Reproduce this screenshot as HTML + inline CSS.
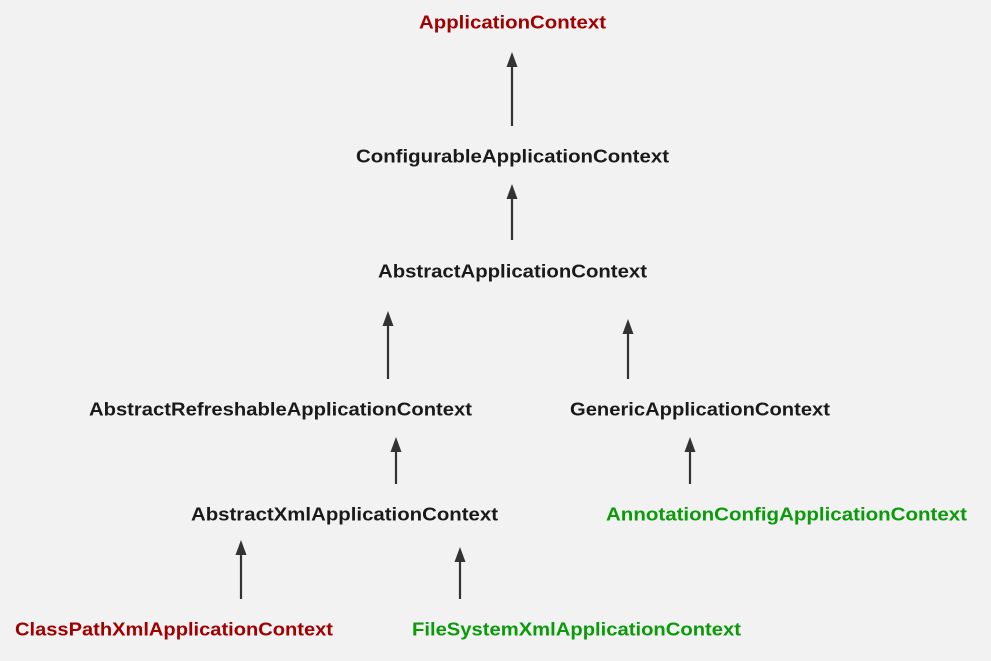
<!DOCTYPE html>
<html><head><meta charset="utf-8"><style>
html,body{margin:0;padding:0;background:#f2f2f2;}
svg{display:block;}
text{font-family:"Liberation Sans",sans-serif;font-weight:bold;font-size:18.5px;}
</style></head><body>
<svg width="991" height="661" viewBox="0 0 991 661" xmlns="http://www.w3.org/2000/svg">
<rect width="991" height="661" fill="#f2f2f2"/>
<g fill="#1a1a1a">
<text x="419" y="28.5" textLength="187" lengthAdjust="spacingAndGlyphs" fill="#a00000">ApplicationContext</text>
<text x="356" y="162.5" textLength="313" lengthAdjust="spacingAndGlyphs">ConfigurableApplicationContext</text>
<text x="378" y="277.5" textLength="269" lengthAdjust="spacingAndGlyphs">AbstractApplicationContext</text>
<text x="89" y="415.5" textLength="383" lengthAdjust="spacingAndGlyphs">AbstractRefreshableApplicationContext</text>
<text x="570" y="415.5" textLength="260" lengthAdjust="spacingAndGlyphs">GenericApplicationContext</text>
<text x="191" y="520.5" textLength="307" lengthAdjust="spacingAndGlyphs">AbstractXmlApplicationContext</text>
<text x="606" y="520.5" textLength="361" lengthAdjust="spacingAndGlyphs" fill="#0a9a0a">AnnotationConfigApplicationContext</text>
<text x="15" y="635.5" textLength="318" lengthAdjust="spacingAndGlyphs" fill="#a00000">ClassPathXmlApplicationContext</text>
<text x="412" y="635.5" textLength="329" lengthAdjust="spacingAndGlyphs" fill="#0a9a0a">FileSystemXmlApplicationContext</text>
</g>
<g stroke="#333" stroke-width="2.2" fill="none">
<line x1="512" y1="126" x2="512" y2="64"/>
<line x1="512" y1="240" x2="512" y2="196"/>
<line x1="388" y1="379" x2="388" y2="323"/>
<line x1="628" y1="379" x2="628" y2="331"/>
<line x1="396" y1="484" x2="396" y2="449"/>
<line x1="690" y1="484" x2="690" y2="449"/>
<line x1="241" y1="599" x2="241" y2="552"/>
<line x1="460" y1="599" x2="460" y2="559"/>
</g>
<g fill="#333">
<polygon points="512,52 506.5,67 517.5,67"/>
<polygon points="512,184 506.5,199 517.5,199"/>
<polygon points="388,311 382.5,326 393.5,326"/>
<polygon points="628,319 622.5,334 633.5,334"/>
<polygon points="396,437 390.5,452 401.5,452"/>
<polygon points="690,437 684.5,452 695.5,452"/>
<polygon points="241,540 235.5,555 246.5,555"/>
<polygon points="460,547 454.5,562 465.5,562"/>
</g>
</svg>
</body></html>
